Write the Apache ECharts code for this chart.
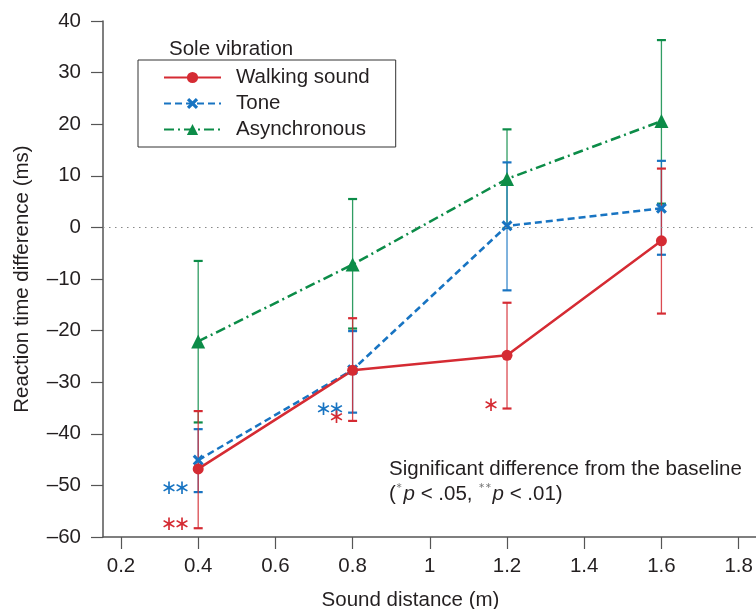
<!DOCTYPE html>
<html>
<head>
<meta charset="utf-8">
<script src="https://cdn.jsdelivr.net/npm/echarts@6/dist/echarts.min.js"></script>
<style>
  html, body { margin: 0; padding: 0; background: #fff; }
  #main { width: 756px; height: 609px; }
</style>
</head>
<body>
<div id="main"></div>
<script>
// sound distance (m)
const distances = [0.4, 0.8, 1.2, 1.6];
const xTicks = [0.2, 0.4, 0.6, 0.8, 1.0, 1.2, 1.4, 1.6, 1.8];

// reaction time difference (ms), mean and error bar ends
const walkingMean = [-46.8, -27.7, -24.8, -2.6];
const walkingLow = [-58.3, -37.5, -35.1, -16.7];
const walkingHigh = [-35.6, -17.6, -14.6, 11.4];
const walkingSig = ['**', '*', '*', ''];

const toneMean = [-45.1, -27.6, 0.3, 3.7];
const toneLow = [-51.3, -35.9, -12.2, -5.3];
const toneHigh = [-39.1, -20.1, 12.6, 12.9];
const toneSig = ['**', '**', '', ''];

const asyncMean = [-22.1, -7.2, 9.4, 20.6];
const asyncLow = [-37.8, -19.6, -0.1, 4.6];
const asyncHigh = [-6.5, 5.5, 19.0, 36.3];
const asyncSig = ['', '', '', ''];

const RED = '#d52b33';
const BLUE = '#1874c2';
const GREEN = '#0c8c48';
const FONT = 'Liberation Sans';
const FS = 20.5;

const chart = echarts.init(document.getElementById('main'), null, { renderer: 'canvas' });

const xSymbol = 'path://M2,0L5,3L8,0L10,2L7,5L10,8L8,10L5,7L2,10L0,8L3,5L0,2Z';

// error bar series: vertical whisker + caps + significance stars
function errorSeries(name, color, low, high, sig) {
  return {
    type: 'custom',
    name: name + ' err',
    z: 1,
    silent: true,
    data: distances.map((d, i) => [d, low[i], high[i]]),
    encode: { x: 0, y: [1, 2] },
    renderItem: (params, api) => {
      const lo = api.coord([api.value(0), api.value(1)]);
      const hi = api.coord([api.value(0), api.value(2)]);
      const cap = 4.5;
      const children = [
        { type: 'line', shape: { x1: lo[0], y1: lo[1], x2: hi[0], y2: hi[1] }, style: { stroke: color, lineWidth: 1.3, opacity: 0.85 } },
        { type: 'line', shape: { x1: lo[0] - cap, y1: lo[1], x2: lo[0] + cap, y2: lo[1] }, style: { stroke: color, lineWidth: 2.2 } },
        { type: 'line', shape: { x1: hi[0] - cap, y1: hi[1], x2: hi[0] + cap, y2: hi[1] }, style: { stroke: color, lineWidth: 2.2 } }
      ];
      const n = sig[params.dataIndex].length;
      for (let k = 0; k < n; k++) {
        children.push({
          type: 'text',
          style: {
            text: '\u2217',
            x: lo[0] - 16 - 13 * k, y: lo[1] - 3,
            align: 'center', verticalAlign: 'middle',
            fill: color, font: '20px "DejaVu Sans"'
          }
        });
      }
      return { type: 'group', children: children };
    }
  };
}

function meanSeries(name, color, values, symbol, size, lineType) {
  return {
    type: 'line',
    name: name,
    z: 3,
    data: distances.map((d, i) => [d, values[i]]),
    symbol: symbol,
    symbolSize: size,
    showSymbol: true,
    lineStyle: { color: color, width: 2.5, type: lineType },
    itemStyle: { color: color, borderWidth: 0 },
    emphasis: { disabled: true }
  };
}

const option = {
  animation: false,
  textStyle: { fontFamily: FONT },
  grid: { left: 103, right: 0, top: 21, bottom: 72, outerBoundsMode: 'none' },
  title: {
    text: 'Sole vibration',
    left: 164, top: 34,
    textStyle: { fontFamily: FONT, fontSize: FS, fontWeight: 'normal', color: '#231f20' }
  },
  legend: {
    data: ['Walking sound', 'Tone', 'Asynchronous'],
    orient: 'vertical',
    left: 138, top: 60,
    padding: [7, 26, 7, 25],
    itemGap: 5,
    itemWidth: 57,
    itemHeight: 14,
    borderColor: '#333',
    borderWidth: 1,
    borderRadius: 0,
    selectedMode: false,
    textStyle: { fontFamily: FONT, fontSize: FS, color: '#231f20', lineHeight: 20, padding: [0, 0, 0, 10] }
  },
  xAxis: {
    type: 'value',
    min: 0.1534,
    max: 1.845,
    name: 'Sound distance (m)',
    nameLocation: 'middle',
    nameGap: 53,
    nameTextStyle: { fontFamily: FONT, fontSize: FS, color: '#231f20', padding: [0, 38, 0, 0] },
    axisLine: { onZero: false, lineStyle: { color: '#555', width: 1.5 } },
    axisTick: { customValues: xTicks, length: 12, lineStyle: { color: '#555', width: 1.2 } },
    axisLabel: {
      customValues: xTicks,
      margin: 19,
      fontFamily: FONT, fontSize: FS, color: '#231f20',
      formatter: v => String(+v.toFixed(1))
    },
    splitLine: { show: false }
  },
  yAxis: {
    type: 'value',
    min: -60,
    max: 40,
    interval: 10,
    name: 'Reaction time difference (ms)',
    nameLocation: 'middle',
    nameGap: 70,
    nameTextStyle: { fontFamily: FONT, fontSize: FS, color: '#231f20' },
    axisLine: { show: true, onZero: false, lineStyle: { color: '#555', width: 1.5 } },
    axisTick: { show: true, length: 12, lineStyle: { color: '#555', width: 1.2 } },
    axisLabel: {
      margin: 22,
      fontFamily: FONT, fontSize: FS, color: '#231f20',
      formatter: v => String(v).replace('-', '\u2013')
    },
    splitLine: { show: false }
  },
  graphic: [{
    type: 'text',
    left: 389, top: 457,
    style: {
      text: 'Significant difference from the baseline\n({s|\u2217}{i|p} < .05, {s|\u2217\u2217}{i|p} < .01)',
      font: FS + 'px "Liberation Sans"',
      fill: '#231f20',
      lineHeight: 25,
      rich: {
        s: { fontSize: 8, fill: '#777', verticalAlign: 'top', fontFamily: 'DejaVu Sans', padding: [0, 1, 8, 0] },
        i: { fontSize: FS, fontStyle: 'italic', fill: '#231f20', fontFamily: FONT }
      }
    }
  }],
  series: [
    errorSeries('Asynchronous', GREEN, asyncLow, asyncHigh, asyncSig),
    errorSeries('Tone', BLUE, toneLow, toneHigh, toneSig),
    errorSeries('Walking sound', RED, walkingLow, walkingHigh, walkingSig),
    Object.assign(meanSeries('Asynchronous', GREEN, asyncMean, 'triangle', 14, [10, 4, 2, 4]), {
      markLine: {
        silent: true,
        symbol: 'none',
        label: { show: false },
        lineStyle: { color: '#888', width: 1.2, type: [1.5, 4.5] },
        data: [{ yAxis: 0 }]
      }
    }),
    meanSeries('Tone', BLUE, toneMean, xSymbol, 11, [7, 4]),
    meanSeries('Walking sound', RED, walkingMean, 'circle', 11, 'solid')
  ]
};

chart.setOption(option);
</script>
</body>
</html>
